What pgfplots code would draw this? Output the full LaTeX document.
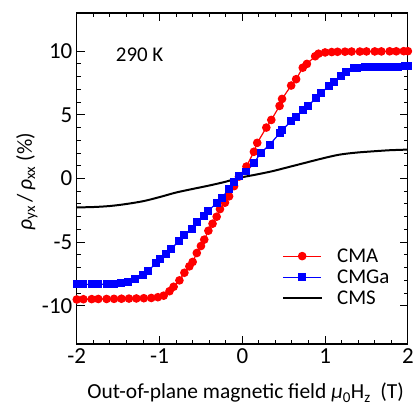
\documentclass[border=0pt]{standalone}
\usepackage{pgfplots}
\pgfplotsset{compat=1.18}
\usepackage{fontspec}
\setmainfont{Carlito}
\begin{document}
\begin{tikzpicture}
\begin{axis}[
  scale only axis, width=332pt, height=332pt,
  xmin=-2, xmax=2, ymin=-13, ymax=13,
  xtick={-2,-1,0,1,2}, ytick={-10,-5,0,5,10},
  xticklabels={-2,-1,0,1,2}, yticklabels={-10,-5,0,5,10},
  minor x tick num=4, minor y tick num=4,
  tick align=inside, major tick length=8pt, minor tick length=4pt,
  xtick pos=both, ytick pos=both,
  axis line style={line width=1.2pt}, tick style={line width=1pt, black},
  tick label style={font=\fontsize{23}{27}\selectfont},
  xticklabel style={yshift=-1pt},
  yticklabel style={xshift=-1pt},
  xlabel={Out-of-plane magnetic field \textit{μ}\textsubscript{0}H\textsubscript{z}~ (T)},
  ylabel={\textit{ρ}\textsubscript{yx}\,/\,\textit{ρ}\textsubscript{xx} (\%)},
  label style={font=\fontsize{21.5}{26}\selectfont},
  xlabel style={at={(axis description cs:0.51,-0.1657)}, anchor=base},
  ylabel style={at={(axis description cs:-0.1355,0.49)}, anchor=base},
  legend style={draw=none, fill=none, at={(0.62,0.295)}, anchor=north west,
    font=\fontsize{21}{25}\selectfont, row sep=2pt, column sep=13pt,
    cells={anchor=west}, inner sep=0pt},
  legend image code/.code={\draw[mark repeat=2,mark phase=2,#1] plot coordinates {(0pt,0pt)(19pt,0pt)(38pt,0pt)};},
  clip=false,
]
\path (rel axis cs:0,0) ++(-77pt,-61pt);
\path (rel axis cs:1,1) ++(8pt,13pt);
\addplot[red, line width=1.2pt, mark=*, mark size=3.7pt] coordinates {
(-2.00,-9.50)(-1.92,-9.48)(-1.82,-9.47)(-1.74,-9.46)(-1.64,-9.46)(-1.55,-9.45)
(-1.46,-9.44)(-1.37,-9.43)(-1.28,-9.42)(-1.19,-9.40)(-1.10,-9.38)(-1.02,-9.32)
(-0.95,-9.20)(-0.88,-8.85)(-0.83,-8.50)(-0.76,-8.00)(-0.70,-7.40)(-0.64,-6.90)
(-0.60,-6.55)(-0.55,-5.85)(-0.50,-5.30)(-0.46,-4.80)(-0.41,-4.10)(-0.36,-3.55)
(-0.31,-3.00)(-0.27,-2.40)(-0.21,-1.90)(-0.16,-1.40)(-0.10,-0.60)(-0.04,0.15)
(0.05,0.94)(0.14,2.10)(0.18,2.80)(0.29,4.00)(0.35,4.60)(0.45,5.70)(0.48,6.25)
(0.59,7.30)(0.65,7.80)(0.73,8.70)(0.78,9.00)(0.88,9.60)(0.92,9.80)(1.00,9.90)
(1.08,9.93)(1.15,9.95)(1.24,9.96)(1.32,9.97)(1.42,9.97)(1.50,9.98)(1.60,9.98)
(1.68,9.98)(1.78,9.99)(1.86,9.99)(1.95,10.00)(2.00,10.00)
};
\addlegendentry{CMA}
\addplot[blue, line width=1.2pt, mark=square*, mark size=3.4pt] coordinates {
(-2.00,-8.32)(-1.92,-8.32)(-1.82,-8.31)(-1.74,-8.31)(-1.64,-8.30)(-1.55,-8.28)
(-1.46,-8.20)(-1.38,-8.10)(-1.30,-7.90)(-1.20,-7.60)(-1.14,-7.30)(-1.04,-6.60)
(-1.00,-6.30)(-0.92,-5.90)(-0.86,-5.50)(-0.76,-4.90)(-0.70,-4.45)(-0.61,-4.00)
(-0.55,-3.45)(-0.46,-2.95)(-0.41,-2.55)(-0.31,-1.90)(-0.25,-1.50)(-0.16,-0.85)
(-0.10,-0.30)(-0.04,0.17)(0.05,0.55)(0.14,1.20)(0.22,2.00)(0.33,2.65)(0.45,3.55)
(0.48,3.80)(0.59,4.50)(0.65,4.85)(0.73,5.40)(0.79,5.70)(0.89,6.30)(0.95,6.70)
(1.05,7.30)(1.11,7.60)(1.19,8.05)(1.25,8.40)(1.35,8.65)(1.39,8.70)(1.48,8.75)
(1.56,8.77)(1.64,8.78)(1.72,8.78)(1.80,8.79)(1.88,8.79)(1.96,8.80)(2.00,8.80)
};
\addlegendentry{CMGa}
\addplot[black, line width=2pt, smooth] coordinates {
(-2.00,-2.27)(-1.80,-2.24)(-1.60,-2.16)(-1.40,-2.00)(-1.19,-1.77)(-1.00,-1.46)
(-0.80,-1.10)(-0.60,-0.82)(-0.40,-0.55)(-0.20,-0.25)(-0.04,0.05)(0.16,0.30)
(0.36,0.57)(0.56,0.90)(0.77,1.25)(0.97,1.58)(1.17,1.87)(1.37,2.03)(1.57,2.13)
(1.78,2.22)(2.00,2.27)
};
\addlegendentry{CMS}
\node[font=\fontsize{21}{25}\selectfont, anchor=west, inner sep=0pt] at (axis cs:-1.53,9.75) {290 K};
\end{axis}
\end{tikzpicture}
\end{document}
